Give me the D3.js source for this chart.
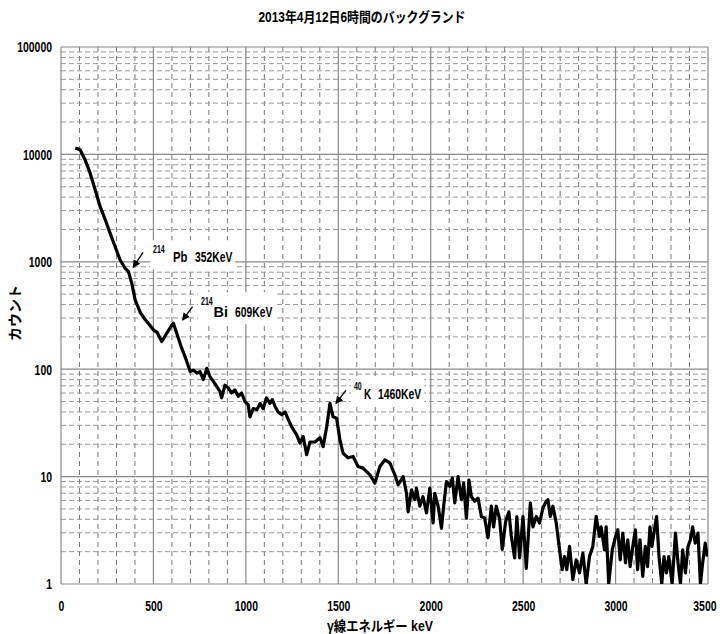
<!DOCTYPE html>
<html>
<head>
<meta charset="utf-8">
<script src="https://cdn.jsdelivr.net/npm/d3@7"></script>
<style>
  body { margin: 0; background: #fff; }
  svg text { font-family: "Liberation Sans", "Noto Sans CJK JP", sans-serif; font-weight: bold; fill: #000; }
</style>
</head>
<body>
<svg id="chart" width="720" height="634"></svg>
<script>
'use strict';

// spectrum (keV, counts)
var energy = [77, 90, 104, 131, 158, 185, 212, 240, 266, 293, 320, 347, 365, 383, 401, 428, 455, 482, 500, 520,
  545, 572, 600, 608, 626, 653, 671, 699, 716, 735, 752, 770, 789, 806, 824, 843, 860, 869, 887, 905,
  923, 941, 959, 977, 995, 1013, 1022, 1040, 1059, 1077, 1094, 1112, 1130, 1143, 1158, 1175, 1194, 1212, 1230, 1248,
  1275, 1293, 1310, 1329, 1347, 1374, 1401, 1418, 1437, 1455, 1472, 1491, 1509, 1526, 1553, 1580, 1607, 1634, 1671, 1698,
  1725, 1752, 1779, 1806, 1824, 1851, 1869, 1878, 1896, 1914, 1923, 1941, 1958, 1977, 1995, 2013, 2022, 2040, 2049, 2058,
  2070, 2085, 2103, 2117, 2130, 2148, 2166, 2178, 2193, 2207, 2220, 2238, 2256, 2274, 2292, 2310, 2328, 2340, 2355, 2373,
  2387, 2405, 2423, 2436, 2454, 2466, 2481, 2499, 2517, 2539, 2553, 2571, 2589, 2607, 2625, 2634, 2647, 2661, 2679, 2697,
  2711, 2724, 2736, 2751, 2769, 2787, 2805, 2823, 2841, 2859, 2877, 2895, 2913, 2922, 2940, 2949, 2963, 2982, 3000, 3012,
  3025, 3039, 3054, 3066, 3079, 3093, 3107, 3119, 3132, 3147, 3161, 3173, 3186, 3197, 3210, 3222, 3235, 3250, 3262, 3275,
  3288, 3306, 3324, 3338, 3351, 3363, 3378, 3392, 3405, 3417, 3431, 3446, 3459, 3471, 3485, 3496];
var counts = [11400, 11300, 11000, 8850, 6650, 4660, 3260, 2450, 1840, 1380, 1040, 870, 810, 630, 442, 340, 290, 255, 232, 220,
  181, 216, 258, 268, 216, 157, 131, 95, 98, 92, 95, 80, 102, 85, 77, 69, 62, 54, 71, 67,
  60, 64, 56, 60, 50, 46.5, 36, 43, 42, 48, 43, 54, 48, 52, 45, 40, 37.6, 40, 33.8, 29,
  24.5, 20.5, 23.6, 16, 21, 21, 23, 19, 29, 48, 36, 35, 22, 16.5, 15, 15.4, 12.4, 12, 10.4, 8.7,
  12.4, 14.3, 13.4, 10.4, 8.4, 10, 7.0, 4.7, 7.5, 6.1, 7.8, 5.3, 6.5, 4.6, 7.8, 3.7, 7.0, 5.3, 4.25, 3.3,
  5.3, 9.0, 8.1, 9.7, 5.7, 10, 6.1, 8.7, 4.1, 9.3, 6.5, 5.9, 6.3, 4.25, 4.1, 2.7, 5.3, 3.4, 5.3, 4.0,
  2.1, 3.8, 4.7, 2.8, 1.75, 4.25, 1.75, 4.25, 1.4, 5.7, 3.4, 4.25, 3.7, 5.1, 5.9, 6.1, 4.25, 5.3, 3.7, 2.08,
  1.36, 1.8, 1.36, 2.24, 1.1, 1.68, 1.27, 1.94, 1.0, 1.8, 2.24, 4.25, 2.77, 3.4, 2.08, 3.4, 1.0, 2.08, 2.77, 3.2,
  1.68, 2.98, 1.57, 2.58, 1.45, 2.24, 3.2, 1.36, 2.58, 1.18, 2.24, 1.45, 3.4, 2.24, 3.2, 4.25, 1.8, 1.0, 1.8, 1.27,
  1.8, 1.0, 2.98, 1.57, 1.0, 2.08, 1.27, 2.24, 2.58, 3.4, 2.4, 2.98, 1.0, 1.57, 2.4, 1.8];

var xTicks = [0, 500, 1000, 1500, 2000, 2500, 3000, 3500];
var yTicks = [1, 10, 100, 1000, 10000, 100000];

// peak labels: isotope mass number, element, energy text, peak position
var peakMass = ['214', '214', '40'];
var peakElem = ['Pb', 'Bi', 'K'];
var peakText = ['352KeV', '609KeV', '1460KeV'];
var peakE = [352, 609, 1460];
var peakC = [870, 268, 48];

var titleText = '2013年4月12日6時間のバックグランド';
var xLabel = 'γ線エネルギー  keV';
var yLabel = 'カウント';

var margin = { top: 47, right: 12, bottom: 50, left: 61 },
    width = 720 - margin.left - margin.right,
    height = 634 - margin.top - margin.bottom;

var svg = d3.select('#chart');
var g = svg.append('g').attr('transform', 'translate(' + margin.left + ',' + margin.top + ')');

var x = d3.scaleLinear().domain([0, 3500]).range([0, width]);
var y = d3.scaleLog().domain([1, 100000]).range([height, 0]);

// condensed bold text, like the original narrow font
function narrow(sel, size, perChar) {
  sel.style('font-size', size + 'px')
    .attr('lengthAdjust', 'spacingAndGlyphs')
    .attr('textLength', function () {
      return d3.select(this).text().length * perChar;
    });
  return sel;
}

// minor grid
var minorX = d3.range(100, 3500, 100).filter(function (d) { return d % 500 !== 0; });
var minorY = [];
yTicks.slice(0, -1).forEach(function (d) {
  for (var k = 2; k <= 9; k++) minorY.push(d * k);
});

g.selectAll('.minor-x').data(minorX).enter().append('line')
  .attr('x1', function (d) { return x(d); }).attr('x2', function (d) { return x(d); })
  .attr('y1', 0).attr('y2', height)
  .attr('stroke', '#777').attr('stroke-width', 1).attr('stroke-dasharray', '5,4');

g.selectAll('.minor-y').data(minorY).enter().append('line')
  .attr('x1', 0).attr('x2', width)
  .attr('y1', function (d) { return y(d); }).attr('y2', function (d) { return y(d); })
  .attr('stroke', '#999').attr('stroke-width', 1).attr('stroke-dasharray', '5,3');

// major grid
g.selectAll('.major-x').data(xTicks).enter().append('line')
  .attr('x1', function (d) { return x(d); }).attr('x2', function (d) { return x(d); })
  .attr('y1', 0).attr('y2', height)
  .attr('stroke', '#888').attr('stroke-width', 1.2);

g.selectAll('.major-y').data(yTicks).enter().append('line')
  .attr('x1', 0).attr('x2', width)
  .attr('y1', function (d) { return y(d); }).attr('y2', function (d) { return y(d); })
  .attr('stroke', '#888').attr('stroke-width', 1.2);

// axes (labels only)
var xAxis = g.append('g').attr('transform', 'translate(0,' + height + ')')
  .call(d3.axisBottom(x).tickValues(xTicks).tickSize(0).tickPadding(16).tickFormat(d3.format('d')));
var yAxis = g.append('g')
  .call(d3.axisLeft(y).tickValues(yTicks).tickSize(0).tickPadding(9).tickFormat(d3.format('d')));
[xAxis, yAxis].forEach(function (a) {
  a.select('.domain').remove();
  narrow(a.selectAll('text'), 15, 5.8);
});
// last x label hugs the right edge
xAxis.selectAll('.tick').filter(function (d) { return d === 3500; })
  .select('text').attr('text-anchor', 'end').attr('x', 8);

// spectrum
svg.append('clipPath').attr('id', 'plot-clip').append('rect')
  .attr('x', 0).attr('y', 0).attr('width', width).attr('height', height);

var line = d3.line()
  .x(function (d, i) { return x(energy[i]); })
  .y(function (d) { return y(Math.max(d, 0.9)); });

g.append('path')
  .datum(counts)
  .attr('clip-path', 'url(#plot-clip)')
  .attr('fill', 'none')
  .attr('stroke', '#000')
  .attr('stroke-width', 3.2)
  .attr('stroke-linejoin', 'round')
  .attr('d', line);

// peak annotations (offsets from the peak point)
svg.append('defs').append('marker')
  .attr('id', 'arrow').attr('viewBox', '0 0 10 10').attr('refX', 9).attr('refY', 5)
  .attr('markerWidth', 6).attr('markerHeight', 6).attr('orient', 'auto')
  .append('path').attr('d', 'M0,0L10,5L0,10z').attr('fill', '#000');

var massDx = [27, 27.5, 23], massDy = [-15, -18, -13],
    elemDx = [47, 40, 33], elemDy = [-6, -6, -4.5],
    textDx = [69, 61.5, 47],
    arrowFrom = [[17, -16], [19, -16.5], [15, -13]],
    arrowTo = [[7, -1], [9, -3], [5, 0]];

peakE.forEach(function (e, i) {
  var px = x(e), py = y(peakC[i]);
  var ann = g.append('g');
  narrow(ann.append('text').attr('x', px + massDx[i]).attr('y', py + massDy[i]).text(peakMass[i]), 10, 3.9);
  narrow(ann.append('text').attr('x', px + elemDx[i]).attr('y', py + elemDy[i]).text(peakElem[i]), 15, 7.2);
  narrow(ann.append('text').attr('x', px + textDx[i]).attr('y', py + elemDy[i]).text(peakText[i]), 15, 6.2);
  var bb = ann.node().getBBox();
  ann.insert('rect', 'text')
    .attr('x', bb.x - 3).attr('y', bb.y - 4).attr('width', bb.width + 6).attr('height', bb.height + 8)
    .attr('fill', '#fff');
  ann.append('line')
    .attr('x1', px + arrowFrom[i][0]).attr('y1', py + arrowFrom[i][1])
    .attr('x2', px + arrowTo[i][0]).attr('y2', py + arrowTo[i][1])
    .attr('stroke', '#000').attr('stroke-width', 1.3).attr('marker-end', 'url(#arrow)');
});

// titles
svg.append('text').attr('x', 362).attr('y', 22).attr('text-anchor', 'middle')
  .attr('textLength', 207).attr('lengthAdjust', 'spacingAndGlyphs')
  .style('font-size', '14px').text(titleText);

svg.append('text').attr('x', 380).attr('y', 631).attr('text-anchor', 'middle')
  .attr('textLength', 106).attr('lengthAdjust', 'spacingAndGlyphs')
  .style('font-size', '14px').text(xLabel);

svg.append('text').attr('transform', 'translate(20,313) rotate(-90)').attr('text-anchor', 'middle')
  .attr('textLength', 56).attr('lengthAdjust', 'spacingAndGlyphs')
  .style('font-size', '14px').text(yLabel);
</script>
</body>
</html>
